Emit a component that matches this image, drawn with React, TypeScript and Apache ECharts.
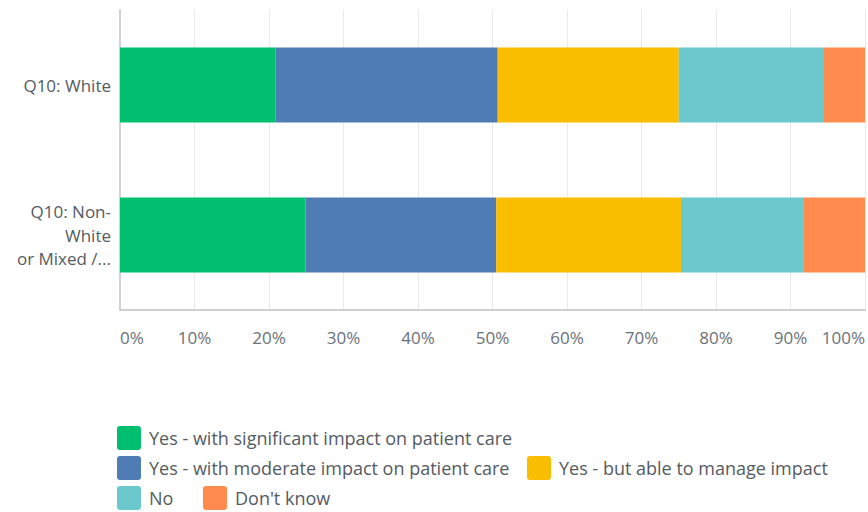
import React, { useEffect, useRef } from "react";
import * as echarts from "echarts";

const categories = ["Q10: White", "Q10: Non-\nWhite\nor Mixed /..."];
const seriesNames = [
  "Yes - with significant impact on patient care",
  "Yes - with moderate impact on patient care",
  "Yes - but able to manage impact",
  "No",
  "Don't know",
];
const significant = [20.9, 24.9];
const moderate = [29.8, 25.6];
const manage = [24.3, 24.8];
const no = [19.5, 16.5];
const dontKnow = [5.5, 8.2];
const colors = ["#00bf6f", "#507cb6", "#f9be00", "#6bc8cd", "#ff8b4f"];
const xTicks = [0, 10, 20, 30, 40, 50, 60, 70, 80, 90, 100];

const FONT = "'Open Sans', Roboto, sans-serif";

export default function App() {
  const ref = useRef<HTMLDivElement>(null);
  useEffect(() => {
    if (!ref.current) return;
    const chart = echarts.init(ref.current, null, { renderer: "svg" });
    const values = [significant, moderate, manage, no, dontKnow];
    const legendPos = [
      { left: 117, top: 426 },
      { left: 117, top: 456 },
      { left: 527, top: 456 },
      { left: 117, top: 486 },
      { left: 203, top: 486 },
    ];
    chart.setOption({
      animation: false,
      textStyle: { fontFamily: FONT },
      grid: { left: 120, right: 2, top: 10, bottom: 202, containLabel: false },
      xAxis: {
        type: "value",
        min: 0,
        max: 100,
        interval: 10,
        axisLine: { show: true, lineStyle: { color: "#d0d0d0", width: 2 } },
        axisTick: { show: false },
        splitLine: { show: true, lineStyle: { color: "#e9e9e9", width: 1 } },
        axisLabel: {
          formatter: (v: number) => (xTicks.includes(v) ? v + "%" : ""),
          color: "#6b7178",
          fontSize: 17,
          fontFamily: FONT,
          margin: 19,
          alignMinLabel: "left",
          alignMaxLabel: "right",
        },
      },
      yAxis: {
        type: "category",
        inverse: true,
        data: categories,
        axisLine: { show: true, lineStyle: { color: "#d0d0d0", width: 2 } },
        axisTick: { show: false },
        axisLabel: {
          color: "#545b63",
          fontSize: 17,
          fontFamily: FONT,
          margin: 9,
          lineHeight: 23.5,
          align: "right",
        },
      },
      legend: seriesNames.map((name, i) => ({
        data: [name],
        left: legendPos[i].left,
        top: legendPos[i].top,
        orient: "horizontal",
        itemWidth: 24,
        itemHeight: 24,
        itemGap: 8,
        padding: 0,
        icon: "path://M3,0 H21 A3,3 0 0 1 24,3 V21 A3,3 0 0 1 21,24 H3 A3,3 0 0 1 0,21 V3 A3,3 0 0 1 3,0 Z",
        selectedMode: false,
        textStyle: { color: "#545b63", fontSize: 18, fontFamily: FONT, padding: [0, 0, 0, 3] },
      })),
      series: seriesNames.map((name, i) => ({
        name,
        type: "bar",
        stack: "total",
        barWidth: 75,
        data: values[i],
        itemStyle: { color: colors[i] },
        emphasis: { disabled: true },
      })),
    });
    return () => chart.dispose();
  }, []);
  return (
    <div
      ref={ref}
      style={{ position: "absolute", left: 0, top: 0, width: 868, height: 512, background: "#fff" }}
    />
  );
}
